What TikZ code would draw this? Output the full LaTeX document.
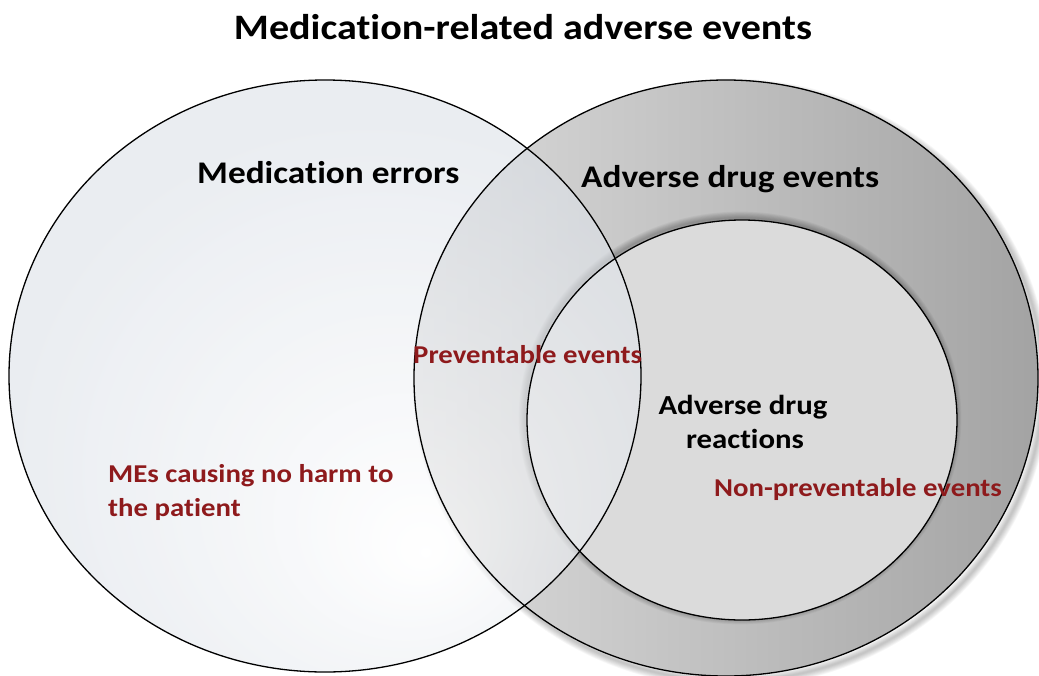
\documentclass[tikz,border=0pt]{standalone}
\usepackage{fontspec}
\setmainfont{Carlito}[FakeStretch=1.12, Ligatures=NoCommon]
\definecolor{redtxt}{HTML}{8E1A1C}
\definecolor{bluegray}{HTML}{DCE1E8}
\pgfdeclareradialshading{leftshade}{\pgfpoint{8bp}{-15bp}}{color(0bp)=(white); color(10bp)=(white!60!bluegray); color(28bp)=(bluegray); color(50bp)=(bluegray)}
\tikzset{
  outline/.style={draw=black, line width=1.3pt},
  blacklbl/.style={inner sep=0pt, anchor=base west, font=\bfseries\fontsize{31.5}{33}\selectfont, text=black},
  redlbl/.style={inner sep=0pt, anchor=base west, font=\bfseries\fontsize{25.7}{27}\selectfont, text=redtxt},
}
\begin{document}
\begin{tikzpicture}[x=1pt,y=-1pt]
\useasboundingbox (0,0) rectangle (1039,675);
% right ellipse: soft shadow
\foreach \i in {1,...,8}
  \draw[black, opacity=0.03, line width=\i*1.6pt] (731,383) ellipse [x radius=312pt, y radius=298pt];
\shade[left color=black!14, right color=black!36] (726,378) ellipse [x radius=312pt, y radius=298pt];
% inner ellipse: soft shadow
\foreach \i in {1,...,8}
  \draw[black, opacity=0.035, line width=\i*1.6pt] (740,418) ellipse [x radius=215pt, y radius=200pt];
\fill[black!14] (742,420) ellipse [x radius=215pt, y radius=200pt];
% left ellipse, semi-transparent
\shade[shading=leftshade, fill opacity=0.6] (325,376) ellipse [x radius=316pt, y radius=296pt];
% outlines
\draw[outline] (726,378) ellipse [x radius=312pt, y radius=298pt];
\draw[outline] (742,420) ellipse [x radius=215pt, y radius=200pt];
\draw[outline] (325,376) ellipse [x radius=316pt, y radius=296pt];
% texts
\node[inner sep=0pt, anchor=base, font=\bfseries\fontsize{35.8}{38}\selectfont] (title) at (523,39) {Medication-related adverse events};
\node[blacklbl] (me) at (197,183) {Medication errors};
\node[blacklbl] (ade) at (581,187) {Adverse drug events};
\node[blacklbl, font=\bfseries\fontsize{27.5}{29}\selectfont, anchor=base] (adr1) at (743,414) {Adverse drug};
\node[blacklbl, font=\bfseries\fontsize{27.5}{29}\selectfont, anchor=base] (adr2) at (745,448) {reactions};
\node[redlbl] (prev) at (413,363) {Preventable events};
\node[redlbl] (nharm1) at (108,482) {MEs causing no harm to};
\node[redlbl] (nharm2) at (108,516) {the patient};
\node[redlbl] (nonprev) at (714,496) {Non-preventable events};
\end{tikzpicture}
\end{document}
